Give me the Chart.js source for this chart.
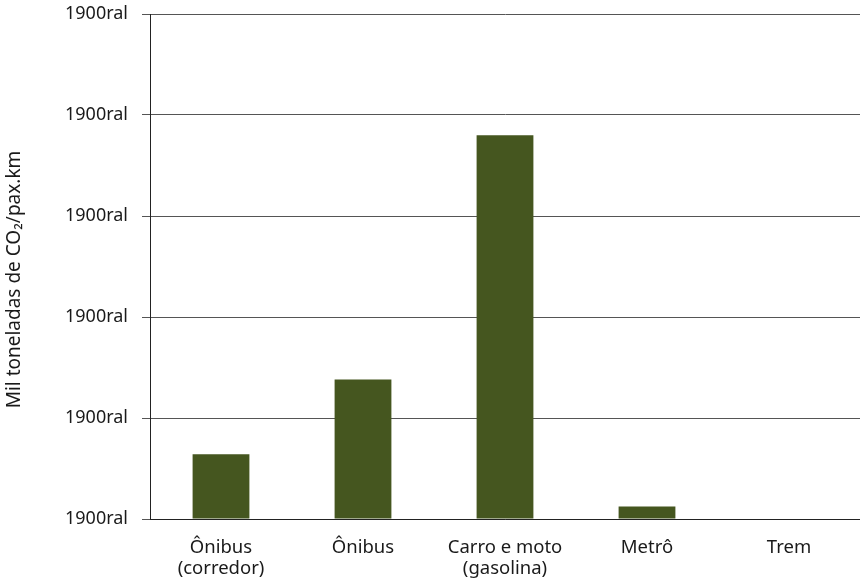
<!DOCTYPE html>
<html>
<head>
<meta charset="utf-8">
<script src="https://cdn.jsdelivr.net/npm/chart.js@4/dist/chart.umd.min.js"></script>
<style>
  html, body { margin: 0; padding: 0; background: #fff; }
  #co2Chart { display: block; }
</style>
</head>
<body>
<canvas id="co2Chart" width="860" height="578"></canvas>
<script>
const categories = [['Ônibus', '(corredor)'], 'Ônibus', ['Carro e moto', '(gasolina)'], 'Metrô', 'Trem'];
const emissions = [0.64, 1.38, 3.80, 0.125, 0];
const tickLabel = '1900ral';
const yTitle = 'Mil toneladas de CO₂/pax.km';

const ctx = document.getElementById('co2Chart').getContext('2d');

// vertical axis title, drawn a little below the middle of the plot
const yTitlePlugin = {
    id: 'yTitle',
    afterDraw(chart) {
        const c = chart.ctx;
        const area = chart.chartArea;
        c.save();
        c.translate(15, (area.top + area.bottom) / 2 + 13);
        c.rotate(-Math.PI / 2);
        c.font = '19px "Noto Sans"';
        c.fillStyle = '#1a1a1a';
        c.textAlign = 'center';
        c.textBaseline = 'middle';
        c.fillText(yTitle, 0, 0);
        c.restore();
    }
};

const data = {
    labels: categories,
    datasets: [{
        label: 'CO2',
        data: emissions,
        backgroundColor: '#45561f',
        borderWidth: 0,
        barPercentage: 0.4,
        categoryPercentage: 1.0,
    }]
};

const config = {
    type: 'bar',
    data: data,
    plugins: [yTitlePlugin],
    options: {
        responsive: false,
        animation: false,
        layout: {
            padding: { top: 0, right: 0, bottom: 0, left: 0 }
        },
        plugins: {
            legend: { display: false },
            tooltip: { enabled: false },
        },
        scales: {
            x: {
                grid: { display: false, drawTicks: false },
                border: { color: '#222', width: 1 },
                ticks: {
                    color: '#1a1a1a',
                    padding: 19,
                    maxRotation: 0,
                    font: { family: 'Noto Sans', size: 18.5, lineHeight: 1.1 }
                },
                // fixed band under the plot for the two-line labels
                afterFit: (scale) => { scale.height = 59; }
            },
            y: {
                min: 0,
                max: 5,
                grid: { color: '#555', tickLength: 8 },
                border: { color: '#222', width: 1 },
                ticks: {
                    stepSize: 1,
                    color: '#1a1a1a',
                    padding: 14,
                    font: { family: 'Noto Sans', size: 18 },
                    callback: () => tickLabel
                },
                afterFit: (scale) => {
                    scale.width = 150;
                    scale.paddingTop = 14;
                    scale.paddingBottom = 0;
                }
            }
        }
    }
};

new Chart(ctx, config);
</script>
</body>
</html>
